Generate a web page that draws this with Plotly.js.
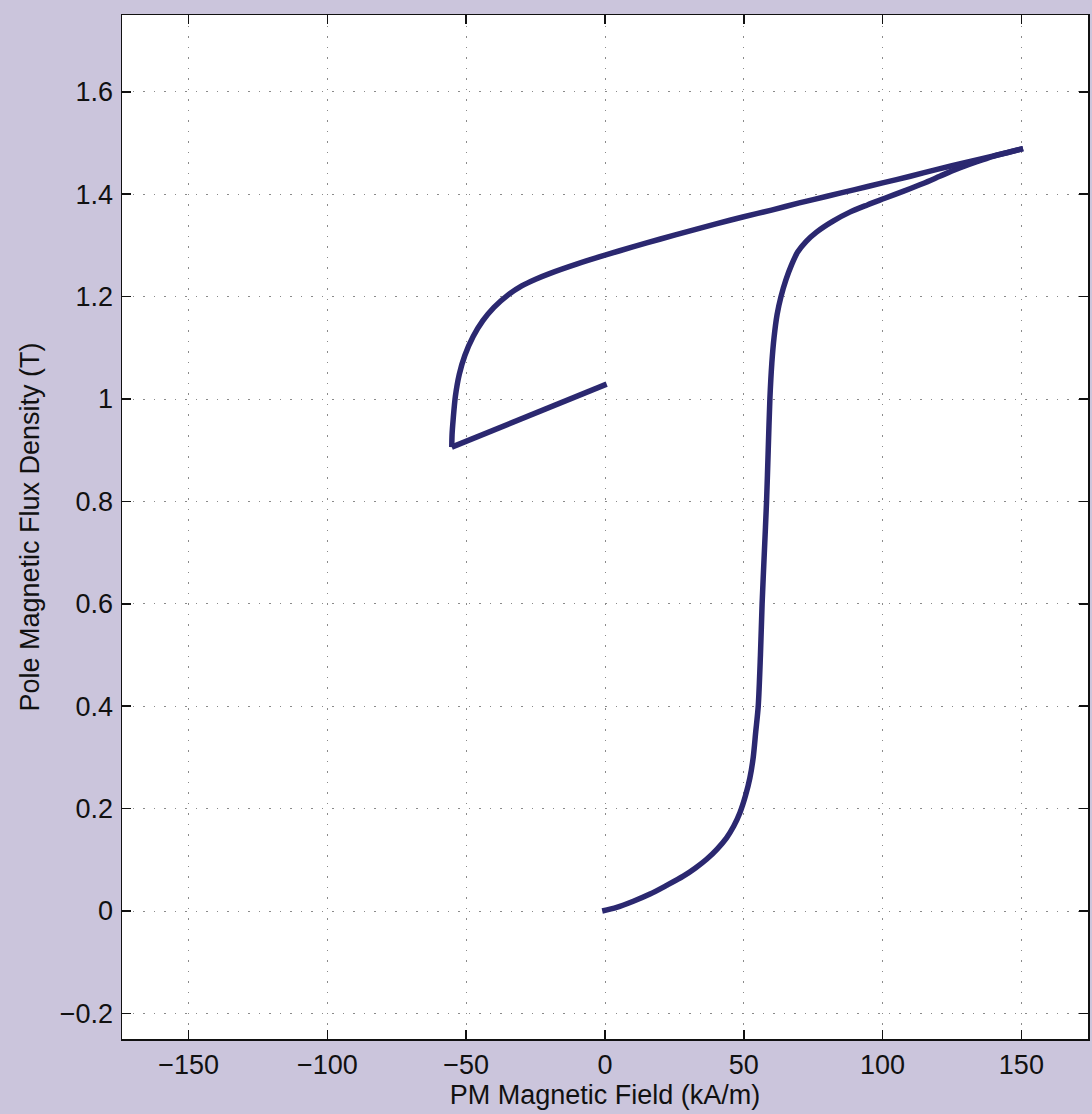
<!DOCTYPE html>
<html>
<head>
<meta charset="utf-8">
<script src="https://cdn.plot.ly/plotly-3.0.1.min.js"></script>
<style>
  html, body { margin: 0; padding: 0; background: #cbc5dc; }
  #chart { width: 1092px; height: 1114px; }
</style>
</head>
<body>
<div id="chart"></div>
<script>
// Initial magnetization curve (kA/m, T)
const initX = [-1, 4.2, 10.2, 16.2, 22.2, 28.2, 32.6, 36.6, 40.4, 43.8, 46.4, 48.6, 50.6, 52.2, 53.4, 54.3, 55.2, 56.0, 56.6, 57.4, 58.2, 58.8, 59.4, 60.1, 60.9, 62.0, 63.4, 65.2, 67.2, 69.4, 72.5, 76.2, 82.0, 88.2, 94.5, 100.8, 107.6, 114.6, 120.6, 126.6, 133.2, 139.8, 145.5, 150.6];
const initY = [0, 0.007, 0.019, 0.033, 0.050, 0.068, 0.084, 0.101, 0.121, 0.143, 0.166, 0.192, 0.225, 0.260, 0.300, 0.350, 0.40, 0.50, 0.60, 0.70, 0.80, 0.90, 1.00, 1.07, 1.12, 1.165, 1.20, 1.233, 1.262, 1.287, 1.308, 1.326, 1.347, 1.365, 1.379, 1.392, 1.406, 1.421, 1.435, 1.449, 1.462, 1.474, 1.482, 1.489];

// Descending branch from the maximum back to the knee
const descX = [150.6, 140, 130, 120, 110, 100, 90, 80, 70, 60, 50, 40, 30, 20, 10, 0, -10, -20, -25, -30, -35, -40, -44, -47.5, -50.5, -52.5, -53.9, -54.7, -55.1, -55.2];
const descY = [1.489, 1.475, 1.462, 1.449, 1.435, 1.422, 1.409, 1.396, 1.383, 1.369, 1.356, 1.342, 1.3275, 1.3125, 1.297, 1.281, 1.264, 1.245, 1.234, 1.221, 1.203, 1.179, 1.153, 1.122, 1.085, 1.048, 1.005, 0.960, 0.930, 0.906];

// Recoil line
const recoilX = [-55.2, 0.6];
const recoilY = [0.906, 1.029];

const xTickVals = [-150, -100, -50, 0, 50, 100, 150];
const xTickText = ['\u2212150', '\u2212100', '\u221250', '0', '50', '100', '150'];
const yTickVals = [-0.2, 0, 0.2, 0.4, 0.6, 0.8, 1, 1.2, 1.4, 1.6];
const yTickText = ['\u22120.2', '0', '0.2', '0.4', '0.6', '0.8', '1', '1.2', '1.4', '1.6'];

const lineStyle = { color: '#2b2870', width: 5.5 };
const FONT = 'Liberation Sans, Arial, Helvetica, sans-serif';

const traces = [
  { x: initX, y: initY, mode: 'lines', line: Object.assign({ shape: 'spline', smoothing: 0.8 }, lineStyle), showlegend: false, hoverinfo: 'x+y' },
  { x: descX, y: descY, mode: 'lines', line: Object.assign({ shape: 'spline', smoothing: 0.8 }, lineStyle), showlegend: false, hoverinfo: 'x+y' },
  { x: recoilX, y: recoilY, mode: 'lines', line: lineStyle, showlegend: false, hoverinfo: 'x+y' }
];

const axisCommon = {
  showline: true,
  linecolor: '#111',
  linewidth: 1.5,
  mirror: 'ticks',
  ticks: 'inside',
  ticklen: 9,
  tickwidth: 1.5,
  tickcolor: '#111',
  showgrid: true,
  gridcolor: '#8a8a8a',
  gridwidth: 1,
  griddash: '1.5px,9px',
  zeroline: false,
  tickfont: { family: FONT, size: 27, color: '#111' },
  fixedrange: true
};

const layout = {
  width: 1092,
  height: 1114,
  paper_bgcolor: '#cbc5dc',
  plot_bgcolor: '#ffffff',
  margin: { l: 122, r: 4, t: 15, b: 75 },
  xaxis: Object.assign({}, axisCommon, {
    range: [-174, 174],
    tickmode: 'array',
    tickvals: xTickVals,
    ticktext: xTickText,
    ticklabelstandoff: 1,
    title: { text: 'PM Magnetic Field (kA/m)', standoff: 3, font: { family: FONT, size: 27, color: '#111' } }
  }),
  yaxis: Object.assign({}, axisCommon, {
    range: [-0.25, 1.75],
    tickmode: 'array',
    tickvals: yTickVals,
    ticktext: yTickText,
    ticklabelstandoff: 2,
    title: { text: 'Pole Magnetic Flux Density (T)', standoff: 12, font: { family: FONT, size: 27, color: '#111' } }
  })
};

Plotly.newPlot('chart', traces, layout, { displayModeBar: false, staticPlot: true });
</script>
</body>
</html>
